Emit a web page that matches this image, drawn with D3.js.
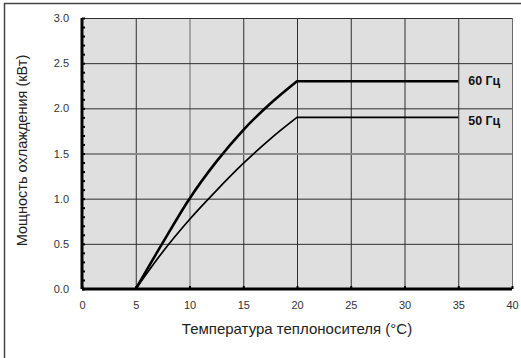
<!DOCTYPE html>
<html>
<head>
<meta charset="utf-8">
<script src="https://cdn.jsdelivr.net/npm/d3@7"></script>
<style>
  body { margin: 0; background: #fff; }
  svg { display: block; font-family: "Liberation Sans", Arial, sans-serif; }
</style>
</head>
<body>
<svg id="chart" width="521" height="358"></svg>
<script>
// temperature (°C) vs cooling capacity (kW)
const temp60 = [5, 7.5, 10, 12.5, 15, 17.5, 20, 35];
const power60 = [0, 0.51, 1.0, 1.41, 1.76, 2.05, 2.3, 2.3];
const temp50 = [5, 7.5, 10, 12.5, 15, 17.5, 20, 35];
const power50 = [0, 0.41, 0.77, 1.09, 1.39, 1.66, 1.9, 1.9];
const seriesLabels = ['60 Гц', '50 Гц'];
const xTicks = [0, 5, 10, 15, 20, 25, 30, 35, 40];
const yTicks = [0, 0.5, 1.0, 1.5, 2.0, 2.5, 3.0];

const margin = { top: 18, right: 9, bottom: 69, left: 82 };
const W = 521, H = 358;
const width = W - margin.left - margin.right;
const height = H - margin.top - margin.bottom;

const svg = d3.select('#chart');

// outer frame (top + left only)
svg.append('line').attr('x1', 4).attr('y1', 3.5).attr('x2', W).attr('y2', 3.5)
    .attr('stroke', '#444').attr('stroke-width', 1.5);
svg.append('line').attr('x1', 4.5).attr('y1', 3).attr('x2', 4.5).attr('y2', H)
    .attr('stroke', '#444').attr('stroke-width', 1.5);

const g = svg.append('g').attr('transform', 'translate(' + margin.left + ',' + margin.top + ')');

const x = d3.scaleLinear().domain([0, 40]).range([0, width]);
const y = d3.scaleLinear().domain([0, 3]).range([height, 0]);

g.append('rect').attr('width', width).attr('height', height).attr('fill', '#dfdfdf');

// grid via axes
const gridX = g.append('g').attr('class', 'grid')
    .call(d3.axisTop(x).tickValues(xTicks.filter(d => d > 0)).tickSize(-height).tickFormat(''));
gridX.select('.domain').remove();
gridX.selectAll('.tick line')
    .attr('stroke', d => d === 10 || d === 40 ? '#6a6a6a' : '#2e2e2e').attr('stroke-width', 1);

const gridY = g.append('g').attr('class', 'grid')
    .call(d3.axisLeft(y).tickValues(yTicks.filter(d => d > 0)).tickSize(-width).tickFormat(''));
gridY.select('.domain').remove();
gridY.selectAll('.tick line')
    .attr('stroke', d => d === 1.5 ? '#8a8a8a' : '#2e2e2e').attr('stroke-width', d => d === 1.5 ? 2 : 1);

// series: smooth rise, then flat run to the end
const rise = d3.line().x(d => x(d[0])).y(d => y(d[1])).curve(d3.curveMonotoneX);
function seriesPath(s) {
    const last = s[s.length - 1];
    return rise(s.slice(0, -1)) + 'L' + x(last[0]) + ',' + y(last[1]);
}
const s60 = temp60.map((t, i) => [t, power60[i]]);
const s50 = temp50.map((t, i) => [t, power50[i]]);
g.append('path').attr('d', seriesPath(s50)).attr('fill', 'none')
    .attr('stroke', '#000').attr('stroke-width', 1.7).attr('stroke-linejoin', 'miter');
g.append('path').attr('d', seriesPath(s60)).attr('fill', 'none')
    .attr('stroke', '#000').attr('stroke-width', 2.6).attr('stroke-linejoin', 'miter');

// series labels at line ends
[s60, s50].forEach((s, i) => {
    const last = s[s.length - 1];
    g.append('text').attr('x', x(last[0]) + 10).attr('y', y(last[1]) + (i === 0 ? 0 : 3))
        .attr('dy', '0.35em').attr('font-size', 12).attr('font-weight', 'bold')
        .attr('fill', '#111').attr('textLength', 32).attr('lengthAdjust', 'spacingAndGlyphs')
        .text(seriesLabels[i]);
});

// axes
const xAxis = d3.axisBottom(x).tickValues(xTicks).tickSize(-3).tickPadding(12).tickFormat(d3.format('d'));
const yAxis = d3.axisLeft(y).tickValues(d3.range(0, 31).map(d => d / 10)).tickSize(-3).tickPadding(13)
    .tickFormat(d => yTicks.some(t => Math.abs(t - d) < 1e-9) ? d3.format('.1f')(d) : '');

const gx = g.append('g').attr('transform', 'translate(0,' + height + ')').call(xAxis);
const gy = g.append('g').call(yAxis);
[gx, gy].forEach(a => {
    a.select('.domain').attr('stroke', '#000').attr('stroke-width', 3);
    a.selectAll('.tick line').attr('stroke', '#000').attr('stroke-width', 2);
    a.selectAll('.tick text').attr('font-size', 11).attr('fill', '#333')
        .attr('font-family', '"Liberation Sans", Arial, sans-serif');
});
gx.select('.domain').attr('d', 'M0,0H' + width);
gy.select('.domain').attr('d', 'M0,0V' + height);

// axis titles
g.append('text').attr('x', width / 2).attr('y', height + 45)
    .attr('text-anchor', 'middle').attr('font-size', 15).attr('fill', '#222')
    .text('Температура теплоносителя (°C)');
g.append('text').attr('transform', 'translate(' + (-55) + ',' + (height / 2 - 3) + ') rotate(-90)')
    .attr('text-anchor', 'middle').attr('font-size', 14.5).attr('fill', '#222')
    .text('Мощность охлаждения (кВт)');
</script>
</body>
</html>
